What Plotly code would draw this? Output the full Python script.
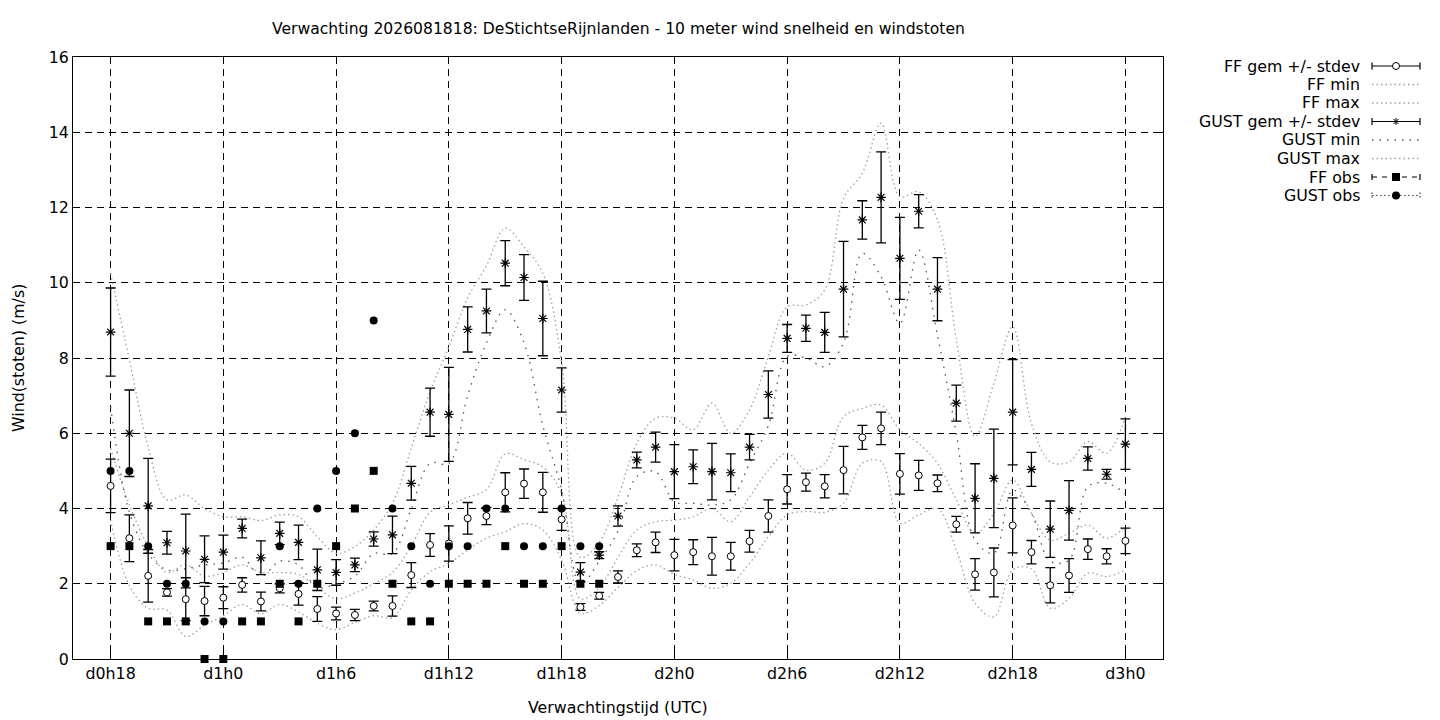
import plotly.graph_objects as go

# ---------------- data ----------------
lead_hours = list(range(18, 73))          # hours since d0h0 (d0h18 ... d3h0)
tick_vals = [18, 24, 30, 36, 42, 48, 54, 60, 66, 72]
tick_text = ["d0h18", "d1h0", "d1h6", "d1h12", "d1h18",
             "d2h0", "d2h6", "d2h12", "d2h18", "d3h0"]

ff_mean = [4.60, 3.21, 2.21, 1.77, 1.59, 1.54, 1.63, 1.97, 1.53, 1.88,
           1.73, 1.33, 1.21, 1.17, 1.41, 1.41, 2.23, 3.03, 3.07, 3.74,
           3.80, 4.43, 4.66, 4.43, 3.71, 1.38, 1.68, 2.18, 2.89, 3.10,
           2.76, 2.84, 2.73, 2.73, 3.13, 3.80, 4.51, 4.70, 4.59, 5.02,
           5.89, 6.13, 4.92, 4.88, 4.67, 3.58, 2.25, 2.30, 3.55, 2.84,
           1.96, 2.22, 2.92, 2.73, 3.14]
ff_sd = [0.71, 0.62, 0.70, 0.10, 0.57, 0.39, 0.29, 0.19, 0.25, 0.12,
         0.30, 0.33, 0.17, 0.15, 0.13, 0.27, 0.33, 0.30, 0.47, 0.42,
         0.23, 0.52, 0.39, 0.53, 0.29, 0.09, 0.09, 0.16, 0.17, 0.27,
         0.42, 0.33, 0.50, 0.37, 0.29, 0.43, 0.39, 0.24, 0.31, 0.63,
         0.32, 0.43, 0.54, 0.40, 0.22, 0.21, 0.42, 0.65, 0.73, 0.31,
         0.47, 0.45, 0.27, 0.20, 0.34]
ff_min = [3.70, 1.95, 1.35, 1.30, 0.60, 0.90, 1.15, 1.45, 1.20, 1.45,
          1.25, 0.95, 0.78, 0.97, 1.15, 1.10, 1.83, 2.32, 2.54, 2.90,
          3.21, 3.38, 3.60, 3.43, 2.63, 1.22, 1.42, 1.90, 2.35, 2.50,
          2.25, 2.10, 1.88, 2.01, 2.54, 3.25, 3.83, 3.92, 3.90, 4.14,
          5.20, 5.25, 3.61, 3.83, 4.00, 2.90, 1.48, 1.12, 2.37, 2.40,
          1.35, 1.61, 2.28, 2.19, 2.37]
ff_max = [5.60, 4.10, 3.00, 2.30, 2.50, 2.20, 2.30, 2.50, 2.30, 2.30,
          2.25, 1.90, 1.60, 1.75, 2.00, 2.30, 3.00, 3.90, 4.10, 4.30,
          4.50, 5.45, 5.30, 5.10, 4.40, 1.60, 1.90, 2.70, 3.43, 3.65,
          3.69, 3.78, 4.00, 3.65, 4.31, 5.02, 5.47, 5.02, 5.20, 6.44,
          6.66, 6.75, 6.09, 5.73, 5.20, 4.23, 3.34, 3.87, 4.76, 3.87,
          3.16, 3.34, 3.56, 3.21, 3.52]

gust_mean = [8.69, 6.00, 4.07, 3.09, 2.87, 2.65, 2.84, 3.47, 2.69, 3.34,
             3.10, 2.37, 2.30, 2.50, 3.19, 3.30, 4.67, 6.56, 6.50, 8.76,
             9.25, 10.52, 10.14, 9.05, 7.15, 2.31, 2.76, 3.80, 5.29, 5.63,
             4.98, 5.11, 4.98, 4.95, 5.63, 7.03, 8.52, 8.79, 8.68, 9.83,
             11.67, 12.27, 10.65, 11.90, 9.83, 6.80, 4.27, 4.80, 6.56, 5.04,
             3.45, 3.95, 5.33, 4.91, 5.71]
gust_sd = [1.17, 1.15, 1.26, 0.30, 0.98, 0.62, 0.45, 0.25, 0.45, 0.30,
           0.46, 0.55, 0.34, 0.18, 0.19, 0.50, 0.45, 0.64, 1.25, 0.60,
           0.58, 0.60, 0.61, 0.99, 0.59, 0.25, 0.09, 0.27, 0.21, 0.40,
           0.72, 0.45, 0.75, 0.50, 0.34, 0.63, 0.37, 0.35, 0.53, 1.27,
           0.51, 1.21, 1.09, 0.44, 0.84, 0.48, 0.92, 1.31, 1.40, 0.45,
           0.75, 0.79, 0.31, 0.13, 0.67]
gust_min = [6.70, 3.90, 2.80, 2.37, 2.40, 2.50, 2.55, 2.70, 2.20, 2.60,
            2.50, 1.90, 2.00, 2.20, 2.80, 2.80, 4.00, 5.20, 5.20, 7.00,
            8.40, 9.28, 8.40, 6.20, 4.50, 2.00, 2.60, 3.40, 4.85, 4.98,
            4.18, 4.14, 4.09, 4.23, 5.20, 6.20, 8.04, 8.00, 7.77, 8.40,
            10.78, 10.16, 8.92, 10.87, 8.60, 6.00, 3.16, 2.81, 4.49, 3.87,
            2.60, 2.63, 4.58, 4.67, 4.40]
gust_max = [10.25, 7.95, 5.64, 4.23, 4.36, 4.00, 3.78, 3.78, 3.68, 3.83,
            3.78, 3.25, 2.81, 2.99, 3.43, 4.14, 5.60, 7.10, 8.30, 9.60,
            10.45, 11.45, 10.95, 10.25, 7.90, 2.70, 3.10, 4.30, 5.73, 6.40,
            6.40, 6.09, 6.80, 6.00, 6.62, 8.04, 9.36, 9.41, 9.81, 12.24,
            12.91, 14.24, 12.29, 12.42, 11.67, 8.50, 5.91, 7.33, 8.83, 6.26,
            5.24, 5.24, 5.78, 5.47, 6.44]

obs_hours = lead_hours[:27]
ff_obs = [3, 3, 1, 1, 1, 0, 0, 1, 1, 2, 1, 2, 3, 4, 5, 2, 1, 1, 2, 2,
          2, 3, 2, 2, 3, 2, 2]
gust_obs = [5, 5, 3, 2, 2, 1, 1, None, None, 3, 2, 4, 5, 6, 9, 4, 3, 2, 3, 3,
            4, 4, 3, 3, 4, 3, 3]

title_text = "Verwachting 2026081818: DeStichtseRijnlanden - 10 meter wind snelheid en windstoten"
y_title = "Wind(stoten) (m/s)"
x_title = "Verwachtingstijd (UTC)"
legend_labels = ["FF gem +/- stdev", "FF min", "FF max", "GUST gem +/- stdev",
                 "GUST min", "GUST max", "FF obs", "GUST obs"]

# ---------------- styles ----------------
FONT = "DejaVu Sans"
FS = 15.8
LIGHT = "#a0a0a0"
DARK = "#555555"
DOT_LIGHT = "1.5px,3px"
DOT_DARK = "1.5px,6px"

# plot area in pixels
L, R, T, B = 73, 1163, 57, 659
W, H = 1440, 720

fig = go.Figure()

def dotted(y, name, color, dash):
    fig.add_trace(go.Scatter(
        x=lead_hours, y=y, mode="lines", name=name, showlegend=False,
        line=dict(color=color, width=1.3, dash=dash, shape="spline", smoothing=1.0),
        hoverinfo="skip"))

dotted(ff_min, "FF min", LIGHT, DOT_LIGHT)
dotted(ff_max, "FF max", LIGHT, DOT_LIGHT)
dotted(gust_min, "GUST min", DARK, DOT_DARK)
dotted(gust_max, "GUST max", LIGHT, DOT_LIGHT)

fig.add_trace(go.Scatter(
    x=lead_hours, y=ff_mean, mode="markers", name="FF gem +/- stdev", showlegend=False,
    marker=dict(symbol="circle", size=7, color="white", line=dict(color="black", width=1)),
    error_y=dict(type="data", array=ff_sd, visible=True, color="black", thickness=1.3, width=5)))
fig.add_trace(go.Scatter(
    x=lead_hours, y=gust_mean, mode="markers", name="GUST gem +/- stdev", showlegend=False,
    marker=dict(symbol="asterisk-open", size=8, color="black", line=dict(color="black", width=1.2)),
    error_y=dict(type="data", array=gust_sd, visible=True, color="black", thickness=1.3, width=5)))
fig.add_trace(go.Scatter(
    x=obs_hours, y=ff_obs, mode="markers", name="FF obs", showlegend=False,
    marker=dict(symbol="square", size=8, color="black"), cliponaxis=False))
fig.add_trace(go.Scatter(
    x=obs_hours, y=gust_obs, mode="markers", name="GUST obs", showlegend=False,
    marker=dict(symbol="circle", size=8, color="black"), cliponaxis=False))

# ---------------- custom gnuplot-like key ----------------
def px(xp):
    return (xp - L) / (R - L)

def py(yp):
    return (B - yp) / (B - T)

shapes = []
annotations = []
row_y = [66, 84.5, 103, 121.5, 140, 158.5, 177, 195.5]
text_right = 1362
s0, s1, sc = 1372, 1420, 1396

def seg(x0, y0, x1, y1, color="black", width=1.2, dash="solid"):
    shapes.append(dict(type="line", xref="paper", yref="paper",
                       x0=px(x0), y0=py(y0), x1=px(x1), y1=py(y1),
                       line=dict(color=color, width=width, dash=dash)))

for lbl, yy in zip(legend_labels, row_y):
    annotations.append(dict(text=lbl, xref="paper", yref="paper", x=px(text_right), y=py(yy),
                            xanchor="right", yanchor="middle", showarrow=False,
                            font=dict(family=FONT, size=FS, color="black")))

for k, yy in enumerate(row_y):
    lbl = legend_labels[k]
    if lbl in ("FF gem +/- stdev", "GUST gem +/- stdev"):
        seg(s0, yy, s1, yy)
        seg(s0, yy - 3.5, s0, yy + 3.5)
        seg(s1, yy - 3.5, s1, yy + 3.5)
        if lbl.startswith("FF"):
            shapes.append(dict(type="circle", xref="paper", yref="paper",
                               x0=px(sc - 3.5), x1=px(sc + 3.5), y0=py(yy + 3.5), y1=py(yy - 3.5),
                               fillcolor="white", line=dict(color="black", width=1)))
        else:
            r = 3.5
            seg(sc - r, yy, sc + r, yy, width=1)
            seg(sc, yy - r, sc, yy + r, width=1)
            seg(sc - 2.5, yy - 2.5, sc + 2.5, yy + 2.5, width=1)
            seg(sc - 2.5, yy + 2.5, sc + 2.5, yy - 2.5, width=1)
    elif lbl == "GUST min":
        seg(s0, yy, s1, yy, color=DARK, width=1.3, dash=DOT_DARK)
    elif lbl in ("FF min", "FF max", "GUST max"):
        seg(s0, yy, s1, yy, color=LIGHT, width=1.3, dash=DOT_LIGHT)
    elif lbl == "FF obs":
        seg(s0, yy, s1, yy, dash="5px,5px")
        seg(s0, yy - 3, s0, yy + 3)
        seg(s1, yy - 3, s1, yy + 3)
        shapes.append(dict(type="rect", xref="paper", yref="paper",
                           x0=px(sc - 4), x1=px(sc + 4), y0=py(yy + 4), y1=py(yy - 4),
                           fillcolor="black", line=dict(color="black", width=0)))
    elif lbl == "GUST obs":
        seg(s0, yy, s1, yy, color="#444444", dash="1.5px,2.5px")
        seg(s0, yy - 3, s0, yy + 3, color="#444444", dash="1.5px,2px")
        seg(s1, yy - 3, s1, yy + 3, color="#444444", dash="1.5px,2px")
        shapes.append(dict(type="circle", xref="paper", yref="paper",
                           x0=px(sc - 4), x1=px(sc + 4), y0=py(yy + 4), y1=py(yy - 4),
                           fillcolor="black", line=dict(color="black", width=0)))

annotations.append(dict(text=title_text, xref="paper", yref="paper", x=0.5, y=py(29),
                        xanchor="center", yanchor="middle", showarrow=False,
                        font=dict(family=FONT, size=FS - 0.2, color="black")))
annotations.append(dict(text=y_title, xref="paper", yref="paper", x=px(18), y=0.5,
                        xanchor="center", yanchor="middle", showarrow=False, textangle=-90,
                        font=dict(family=FONT, size=FS, color="black")))
annotations.append(dict(text=x_title, xref="paper", yref="paper", x=0.5, y=py(707),
                        xanchor="center", yanchor="middle", showarrow=False,
                        font=dict(family=FONT, size=FS, color="black")))

axis_common = dict(showline=True, linecolor="black", linewidth=1, mirror="ticks",
                   ticks="inside", ticklen=7, tickcolor="black", tickwidth=1,
                   showgrid=True, gridcolor="black", gridwidth=1, griddash="7px,5px",
                   zeroline=False, tickfont=dict(family=FONT, size=FS, color="black"))

fig.update_layout(
    width=W, height=H, paper_bgcolor="white", plot_bgcolor="white",
    margin=dict(l=L, r=W - R, t=T, b=H - B, pad=0),
    showlegend=False,
    font=dict(family=FONT, size=FS, color="black"),
    xaxis=dict(range=[16, 74], tickvals=tick_vals, ticktext=tick_text, **axis_common),
    yaxis=dict(range=[0, 16], dtick=2, tick0=0, **axis_common),
    shapes=shapes, annotations=annotations,
)

fig.write_html("out.html", config={"displayModeBar": False})

# remove the default page margin so the figure sits at the window's top-left corner
with open("out.html", "r", encoding="utf-8") as fh:
    page = fh.read()
page = page.replace("<head>", "<head><style>html,body{margin:0;padding:0;overflow:hidden;}</style>", 1)
with open("out.html", "w", encoding="utf-8") as fh:
    fh.write(page)
